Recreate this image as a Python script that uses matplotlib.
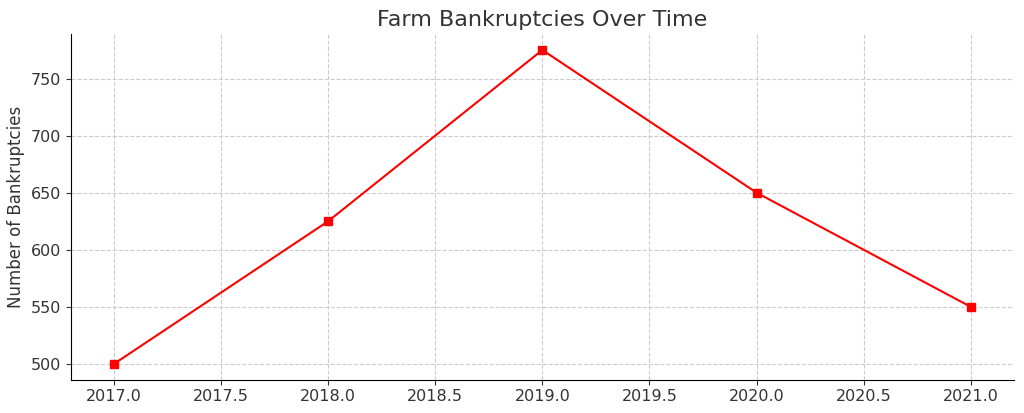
import matplotlib.pyplot as plt

years = [2017, 2018, 2019, 2020, 2021]
bankruptcies = [500, 625, 775, 650, 550]

plt.rcParams['text.color'] = '#333333'
plt.rcParams['axes.labelcolor'] = '#333333'
plt.rcParams['xtick.color'] = '#333333'
plt.rcParams['ytick.color'] = '#333333'

fig, ax = plt.subplots(figsize=(10.24, 4.13), dpi=100)
ax.plot(years, bankruptcies, color='red', marker='s', markersize=6, linewidth=1.5)
ax.set_title('Farm Bankruptcies Over Time', fontsize=16)
ax.set_ylabel('Number of Bankruptcies', fontsize=12)
ax.tick_params(labelsize=11.5)
ax.grid(True, linestyle='--', color='#cccccc', linewidth=0.8)
ax.spines['top'].set_visible(False)
ax.spines['right'].set_visible(False)
fig.subplots_adjust(left=0.0693, right=0.990, top=0.917, bottom=0.0806)
fig.savefig('out.png')
